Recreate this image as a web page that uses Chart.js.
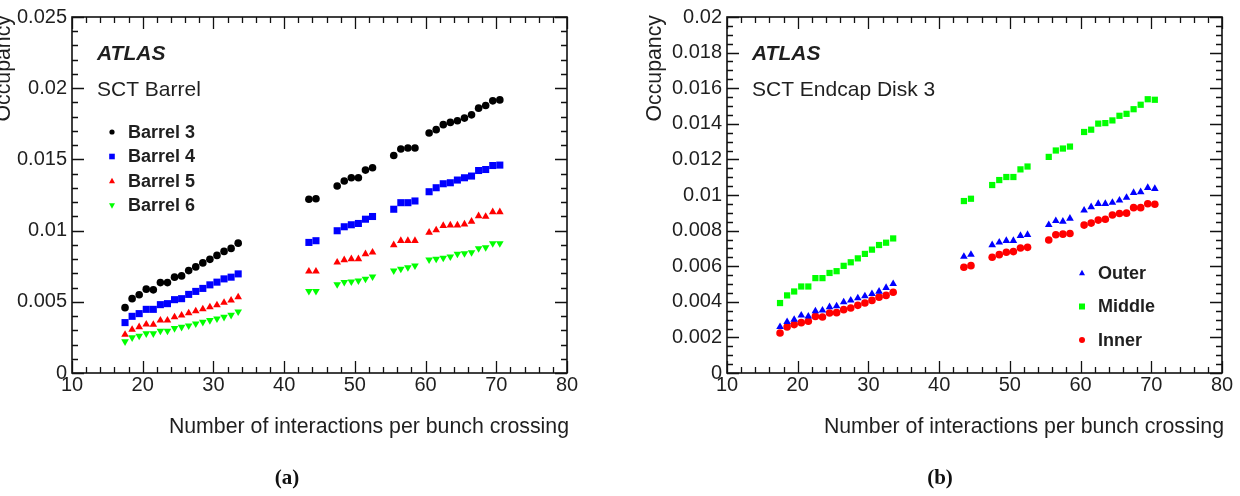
<!DOCTYPE html>
<html>
<head>
<meta charset="utf-8">
<script src="https://cdn.jsdelivr.net/npm/chart.js@4/dist/chart.umd.min.js"></script>
<style>
  html, body { margin: 0; padding: 0; background: #fff; width: 1240px; height: 496px; overflow: hidden; }
  .pane { position: absolute; top: 0; width: 620px; height: 496px; }
  .cap { position: absolute; top: 465px; font-family: "Liberation Serif", "DejaVu Serif", serif; font-weight: bold; font-size: 21px; color: #111; transform: translateX(-50%); }
</style>
</head>
<body>
<div class="pane" style="left:0"><canvas id="chartA" width="620" height="496"></canvas></div>
<div class="pane" style="left:620px"><canvas id="chartB" width="620" height="496"></canvas></div>
<div class="cap" style="left:287px">(a)</div>
<div class="cap" style="left:940px">(b)</div>
<script>
// ---- data ----
const mu = [17.5,18.5,19.5,20.5,21.5,22.5,23.5,24.5,25.5,26.5,27.5,28.5,29.5,30.5,31.5,32.5,33.5,
            43.5,44.5,
            47.5,48.5,49.5,50.5,51.5,52.5,
            55.5,56.5,57.5,58.5,
            60.5,61.5,62.5,63.5,64.5,65.5,66.5,67.5,68.5,69.5,70.5];

const barrel3 = [0.00459,0.00522,0.00550,0.00589,0.00584,0.00635,0.00635,0.00673,0.00682,0.00719,0.00745,0.00773,0.00798,0.00826,0.00854,0.00875,0.00912,
                 0.01220,0.01224,
                 0.01313,0.01348,0.01371,0.01371,0.01425,0.01441,
                 0.01527,0.01573,0.01580,0.01580,
                 0.01685,0.01709,0.01744,0.01760,0.01771,0.01790,0.01813,0.01860,0.01878,0.01911,0.01918];
const barrel4 = [0.00354,0.00398,0.00417,0.00447,0.00447,0.00480,0.00487,0.00515,0.00522,0.00552,0.00573,0.00594,0.00619,0.00638,0.00661,0.00673,0.00696,
                 0.00917,0.00929,
                 0.00999,0.01027,0.01041,0.01050,0.01080,0.01099,
                 0.01150,0.01196,0.01196,0.01208,
                 0.01273,0.01301,0.01329,0.01336,0.01355,0.01371,0.01383,0.01422,0.01429,0.01457,0.01460];
const barrel5 = [0.00270,0.00305,0.00323,0.00342,0.00340,0.00370,0.00370,0.00393,0.00405,0.00421,0.00435,0.00449,0.00463,0.00477,0.00494,0.00510,0.00533,
                 0.00714,0.00714,
                 0.00777,0.00794,0.00801,0.00801,0.00836,0.00847,
                 0.00899,0.00929,0.00929,0.00929,
                 0.00987,0.01003,0.01034,0.01038,0.01038,0.01045,0.01064,0.01103,0.01098,0.01131,0.01131];
const barrel6 = [0.00221,0.00249,0.00261,0.00277,0.00277,0.00296,0.00296,0.00314,0.00323,0.00333,0.00347,0.00358,0.00370,0.00382,0.00393,0.00407,0.00431,
                 0.00575,0.00575,
                 0.00622,0.00638,0.00642,0.00649,0.00661,0.00677,
                 0.00719,0.00731,0.00742,0.00754,
                 0.00796,0.00801,0.00808,0.00817,0.00836,0.00840,0.00847,0.00875,0.00882,0.00910,0.00910];

const outer  = [0.00259,0.00287,0.00300,0.00324,0.00318,0.00348,0.00352,0.00371,0.00376,0.00398,0.00408,0.00421,0.00432,0.00445,0.00458,0.00479,0.00501,
                0.00654,0.00665,
                0.00719,0.00734,0.00743,0.00743,0.00771,0.00777,
                0.00832,0.00855,0.00851,0.00868,
                0.00914,0.00933,0.00951,0.00951,0.00957,0.00970,0.00985,0.01013,0.01017,0.01041,0.01035];
const middle = [0.00393,0.00436,0.00458,0.00486,0.00486,0.00533,0.00533,0.00562,0.00572,0.00602,0.00622,0.00644,0.00669,0.00693,0.00719,0.00732,0.00756,
                0.00966,0.00979,
                0.01056,0.01084,0.01101,0.01101,0.01144,0.01160,
                0.01214,0.01250,0.01261,0.01272,
                0.01354,0.01367,0.01401,0.01404,0.01419,0.01445,0.01456,0.01482,0.01507,0.01538,0.01535];
const inner  = [0.00225,0.00259,0.00272,0.00283,0.00291,0.00318,0.00315,0.00337,0.00339,0.00356,0.00365,0.00380,0.00393,0.00408,0.00426,0.00436,0.00454,
                0.00594,0.00603,
                0.00650,0.00665,0.00678,0.00682,0.00702,0.00706,
                0.00747,0.00777,0.00780,0.00784,
                0.00831,0.00842,0.00859,0.00864,0.00888,0.00896,0.00898,0.00929,0.00929,0.00951,0.00948];

const xTickLabels = ['10','20','30','40','50','60','70','80'];
const yTickLabelsA = ['0','0.005','0.01','0.015','0.02','0.025'];
const yTickLabelsB = ['0','0.002','0.004','0.006','0.008','0.01','0.012','0.014','0.016','0.018','0.02'];

// ---- helpers ----
const FONT = '"Liberation Sans", Arial, Helvetica, sans-serif';
const TXT = '#1f1f1f';

function pts(ys) { return mu.map((x, i) => ({x: x, y: ys[i]})); }

function drawMarker(ctx, style, rot, r, x, y, color) {
  ctx.save();
  ctx.fillStyle = color;
  ctx.beginPath();
  if (style === 'circle') {
    ctx.arc(x, y, r, 0, Math.PI * 2);
  } else if (style === 'rect') {
    ctx.rect(x - r, y - r, 2 * r, 2 * r);
  } else {
    const s = rot ? -1 : 1;
    ctx.moveTo(x, y - s * r * 1.05);
    ctx.lineTo(x - r * 1.0, y + s * r * 0.75);
    ctx.lineTo(x + r * 1.0, y + s * r * 0.75);
    ctx.closePath();
  }
  ctx.fill();
  ctx.restore();
}

const decor = {
  id: 'decor',
  afterDraw(chart, args, o) {
    const ctx = chart.ctx, a = chart.chartArea, xs = chart.scales.x, ys = chart.scales.y;
    ctx.save();
    // frame
    ctx.strokeStyle = '#111';
    ctx.lineWidth = 1.6;
    ctx.strokeRect(a.left, a.top, a.right - a.left, a.bottom - a.top);
    ctx.lineWidth = 1.3;
    ctx.beginPath();
    const nx = Math.round((xs.max - xs.min) / o.xMinor);
    for (let i = 0; i <= nx; i++) {
      const v = xs.min + i * o.xMinor;
      const major = Math.abs(v / o.xMajor - Math.round(v / o.xMajor)) < 1e-6;
      const L = major ? o.majLen : o.minLen;
      const px = Math.round(xs.getPixelForValue(v)) + 0.5;
      ctx.moveTo(px, a.bottom); ctx.lineTo(px, a.bottom - L);
      ctx.moveTo(px, a.top); ctx.lineTo(px, a.top + L);
    }
    const ny = Math.round((ys.max - ys.min) / o.yMinor);
    for (let i = 0; i <= ny; i++) {
      const v = ys.min + i * o.yMinor;
      const major = Math.abs(v / o.yMajor - Math.round(v / o.yMajor)) < 1e-6;
      const L = major ? o.majLen : o.minLen;
      const py = Math.round(ys.getPixelForValue(v)) + 0.5;
      ctx.moveTo(a.left, py); ctx.lineTo(a.left + L, py);
      ctx.moveTo(a.right, py); ctx.lineTo(a.right - L, py);
    }
    ctx.stroke();

    ctx.fillStyle = TXT;
    // axis titles
    ctx.font = '21.3px ' + FONT;
    ctx.textAlign = 'right';
    ctx.textBaseline = 'middle';
    ctx.fillText('Number of interactions per bunch crossing', a.right + 2, 427);
    ctx.save();
    ctx.translate(o.yTitleX, a.top - 2);
    ctx.rotate(-Math.PI / 2);
    ctx.textAlign = 'right';
    ctx.fillText('Occupancy', 0, 0);
    ctx.restore();

    // ATLAS label
    ctx.textAlign = 'left';
    ctx.font = 'italic bold 21px ' + FONT;
    ctx.fillText('ATLAS', a.left + 25, 54);
    ctx.font = '21px ' + FONT;
    ctx.fillText(o.sub, a.left + 25, 90);

    // legend
    ctx.font = 'bold 18px ' + FONT;
    o.legend.forEach((it, k) => {
      const ds = chart.data.datasets[it.ds];
      const yy = o.legY + k * o.legDy;
      drawMarker(ctx, ds.pointStyle, ds.rotation, it.r, o.legX, yy, ds.backgroundColor);
      ctx.fillStyle = TXT;
      ctx.fillText(ds.label, o.legX + 16, yy + 1);
    });
    ctx.restore();
  }
};

function ds(label, data, color, style, rot, r) {
  return {label: label, data: pts(data), backgroundColor: color, borderColor: color, borderWidth: 0,
          pointStyle: style, rotation: rot, pointRadius: r, pointHoverRadius: r, showLine: false};
}

function makeChart(id, datasets, ymax, ystep, ylabels, yWidth, padRight, decorOpts) {
  return new Chart(document.getElementById(id), {
    type: 'scatter',
    data: {datasets: datasets},
    options: {
      responsive: false,
      animation: false,
      events: [],
      layout: {padding: {left: 0, top: 15, right: padRight, bottom: 0}},
      plugins: {legend: {display: false}, tooltip: {enabled: false}, decor: decorOpts},
      scales: {
        x: {
          type: 'linear', min: 10, max: 80,
          grid: {display: false, drawTicks: false},
          border: {display: false},
          ticks: {stepSize: 10, autoSkip: false, maxRotation: 0, padding: 0, color: TXT,
                  font: {family: FONT, size: 20},
                  callback: (v) => xTickLabels[Math.round((v - 10) / 10)]},
          afterFit: (s) => { s.height = 123; }
        },
        y: {
          type: 'linear', min: 0, max: ymax,
          grid: {display: false, drawTicks: false},
          border: {display: false},
          ticks: {stepSize: ystep, autoSkip: false, padding: 5, color: TXT,
                  font: {family: FONT, size: 20},
                  callback: (v) => ylabels[Math.round(v / ystep)]},
          afterFit: (s) => { s.width = yWidth; }
        }
      }
    },
    plugins: [decor]
  });
}

makeChart('chartA', [
  ds('Barrel 3', barrel3, '#000000', 'circle', 0, 3.8),
  ds('Barrel 4', barrel4, '#0000ff', 'rect', 0, 5),
  ds('Barrel 5', barrel5, '#ff0000', 'triangle', 0, 4.4),
  ds('Barrel 6', barrel6, '#00ff00', 'triangle', 180, 4.4)
], 0.025, 0.005, yTickLabelsA, 72, 53, {
  xMinor: 2, xMajor: 10, yMinor: 0.001, yMajor: 0.005, majLen: 12, minLen: 6,
  yTitleX: 4, sub: 'SCT Barrel',
  legX: 112, legY: 132, legDy: 24.5,
  legend: [{ds: 0, r: 2.6}, {ds: 1, r: 2.8}, {ds: 2, r: 3}, {ds: 3, r: 3}]
});

makeChart('chartB', [
  ds('Outer', outer, '#0000ff', 'triangle', 0, 4.4),
  ds('Middle', middle, '#00ff00', 'rect', 0, 4.4),
  ds('Inner', inner, '#ff0000', 'circle', 0, 3.8)
], 0.02, 0.002, yTickLabelsB, 107, 18, {
  xMinor: 2, xMajor: 10, yMinor: 0.0005, yMajor: 0.002, majLen: 12, minLen: 6,
  yTitleX: 35, sub: 'SCT Endcap Disk 3',
  legX: 462, legY: 273, legDy: 33.5,
  legend: [{ds: 0, r: 3}, {ds: 1, r: 3}, {ds: 2, r: 3}]
});
</script>
</body>
</html>
